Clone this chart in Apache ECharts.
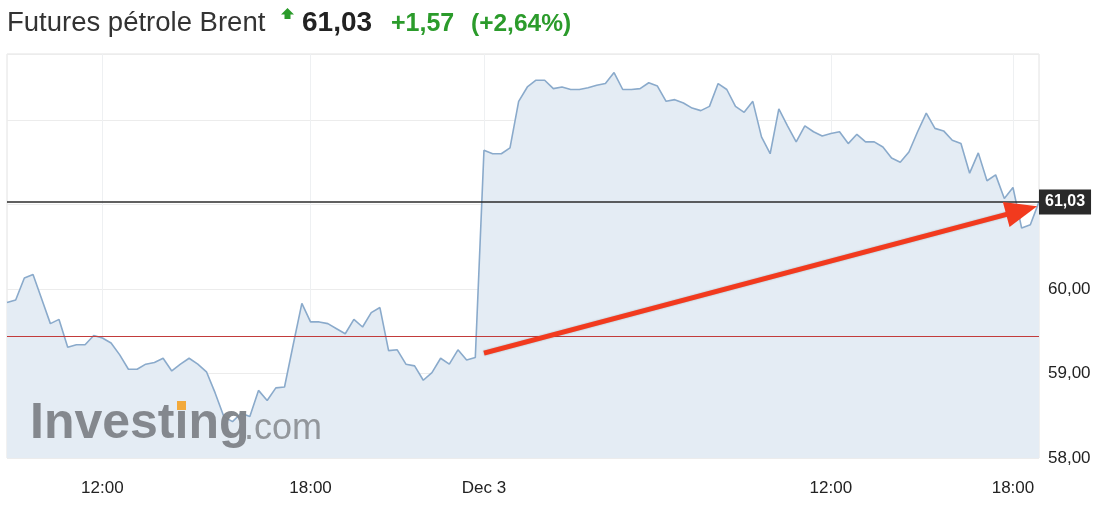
<!DOCTYPE html>
<html><head><meta charset="utf-8">
<script src="https://cdn.jsdelivr.net/npm/echarts@6/dist/echarts.min.js"></script>
<style>html,body{margin:0;padding:0;background:#fff}#c{width:1120px;height:523px}</style>
</head><body><div id="c"></div>
<script>
// Brent futures price, one point per interval (Dec 2 -> Dec 3)
const prices = [
  59.84, 59.87, 60.13, 60.17, 59.88, 59.59, 59.64, 59.31, 59.34, 59.34,
  59.45, 59.42, 59.36, 59.22, 59.05, 59.05, 59.11, 59.13, 59.18, 59.03,
  59.11, 59.18, 59.11, 59.02, 58.77, 58.49, 58.43, 58.53, 58.49, 58.80,
  58.68, 58.83, 58.84, 59.34, 59.83, 59.61, 59.61, 59.59, 59.53, 59.47,
  59.64, 59.55, 59.72, 59.78, 59.27, 59.28, 59.11, 59.09, 58.92, 59.01,
  59.18, 59.11, 59.28, 59.16, 59.19, 61.64, 61.60, 61.60, 61.67, 62.22,
  62.39, 62.47, 62.47, 62.37, 62.39, 62.36, 62.36, 62.38, 62.41, 62.43,
  62.56, 62.36, 62.36, 62.37, 62.44, 62.40, 62.22, 62.24, 62.20, 62.14,
  62.11, 62.16, 62.43, 62.36, 62.16, 62.09, 62.22, 61.80, 61.60, 62.13,
  61.93, 61.74, 61.93, 61.86, 61.81, 61.84, 61.86, 61.72, 61.83, 61.74,
  61.74, 61.68, 61.55, 61.50, 61.62, 61.86, 62.08, 61.90, 61.87, 61.76,
  61.72, 61.37, 61.61, 61.28, 61.35, 61.07, 61.20, 60.72, 60.76, 61.03
];
const xTickIndex = [11, 35, 55, 95, 116];
const xTickLabels = ['12:00', '18:00', 'Dec 3', '12:00', '18:00'];
const yTickValues = [58, 59, 60];
const yTickLabels = ['58,00', '59,00', '60,00'];
const yMin = 58, yMax = 62.78;
const lastPrice = 61.03;
const lastPriceLabel = '61,03';
const prevClose = 59.44;
const changeLabel = '+1,57';
const changePctLabel = '(+2,64%)';
const titleLabel = 'Futures pétrole Brent';
const arrowFrom = [55, 59.24];
const arrowTo = [117, 60.93];

const categories = prices.map((_, i) => String(i));
const FONT = "'Liberation Sans', Arial, Helvetica, sans-serif";
const isTick = (i) => xTickIndex.indexOf(i) >= 0;

const chart = echarts.init(document.getElementById('c'), null, {renderer: 'canvas'});
chart.setOption({
  animation: false,
  backgroundColor: '#fff',
  textStyle: {fontFamily: FONT},
  grid: {left: 7, top: 54, right: 81, bottom: 65, show: true, borderColor: '#e2e2e2', borderWidth: 1, backgroundColor: 'transparent'},
  xAxis: {
    type: 'category', data: categories, boundaryGap: false,
    axisLine: {show: false}, axisTick: {show: false},
    axisLabel: {
      interval: (i) => isTick(i),
      formatter: (v, i) => { const k = xTickIndex.indexOf(i); return k >= 0 ? xTickLabels[k] : ''; },
      fontSize: 17, color: '#222', margin: 22, fontFamily: FONT
    },
    splitLine: {show: true, interval: (i) => isTick(i), lineStyle: {color: '#eef0f2', width: 1}}
  },
  yAxis: {
    type: 'value', position: 'right', min: yMin, max: yMax, interval: 1,
    axisLine: {show: false}, axisTick: {show: false},
    axisLabel: {
      formatter: (v) => { const k = yTickValues.indexOf(Math.round(v * 100) / 100); return k >= 0 ? yTickLabels[k] : ''; },
      fontSize: 17, color: '#222', margin: 9, fontFamily: FONT
    },
    splitLine: {lineStyle: {color: '#ececec', width: 1}}
  },
  series: [{
    type: 'line', data: prices, symbol: 'none', smooth: false,
    lineStyle: {color: '#8aaacb', width: 1.6},
    areaStyle: {color: '#e4ecf4', opacity: 1, origin: 'start'},
    z: 2,
    markLine: {
      silent: true, symbol: ['none', 'none'], animation: false,
      data: [
        {yAxis: prevClose, lineStyle: {color: '#c23b3b', width: 1, type: 'solid'}, label: {show: false}},
        {yAxis: lastPrice, lineStyle: {color: '#2b2b2b', width: 1.5, type: 'solid'},
          label: {show: true, position: 'end', distance: 0, formatter: lastPriceLabel,
            backgroundColor: '#2a2a2a', color: '#fff', fontWeight: 'bold', fontSize: 16,
            padding: [5, 6, 4, 6], fontFamily: FONT}},
        [
          {coord: arrowFrom, symbol: 'none', lineStyle: {color: '#f23a1e', width: 5, type: 'solid', shadowBlur: 2, shadowColor: 'rgba(0,0,0,0.25)'}, label: {show: false}},
          {coord: arrowTo, symbol: 'triangle', symbolSize: [26, 32]}
        ]
      ]
    }
  }],
  graphic: [
    {type: 'text', x: 7, y: 23, style: {text: titleLabel, font: "27.5px " + FONT, fill: '#333', align: 'left', verticalAlign: 'middle'}},
    {type: 'polygon', shape: {points: [[287.5, 8], [294, 14.5], [290.5, 14.5], [290.5, 19], [284.5, 19], [284.5, 14.5], [281, 14.5]]}, style: {fill: '#2b9b2b'}},
    {type: 'text', x: 302, y: 23, style: {text: lastPriceLabel, font: "bold 28px " + FONT, fill: '#222', align: 'left', verticalAlign: 'middle'}},
    {type: 'text', x: 391, y: 24, style: {text: changeLabel, font: "bold 25px " + FONT, fill: '#2b9b2b', align: 'left', verticalAlign: 'middle'}},
    {type: 'text', x: 471, y: 24, style: {text: changePctLabel, font: "bold 24.5px " + FONT, fill: '#2b9b2b', align: 'left', verticalAlign: 'middle'}},
    {type: 'text', x: 30, y: 424, z: 100, style: {text: 'Investıng', font: "bold 50px " + FONT, fill: '#7e8388', opacity: 0.95, align: 'left', verticalAlign: 'middle'}},
    {type: 'rect', z: 100, shape: {x: 177, y: 401, width: 9, height: 9}, style: {fill: '#f2a93b'}},
    {type: 'text', x: 244, y: 429, z: 100, style: {text: '.com', font: "36px " + FONT, fill: '#8e9297', opacity: 0.95, align: 'left', verticalAlign: 'middle'}}
  ]
});
</script>
</body></html>
